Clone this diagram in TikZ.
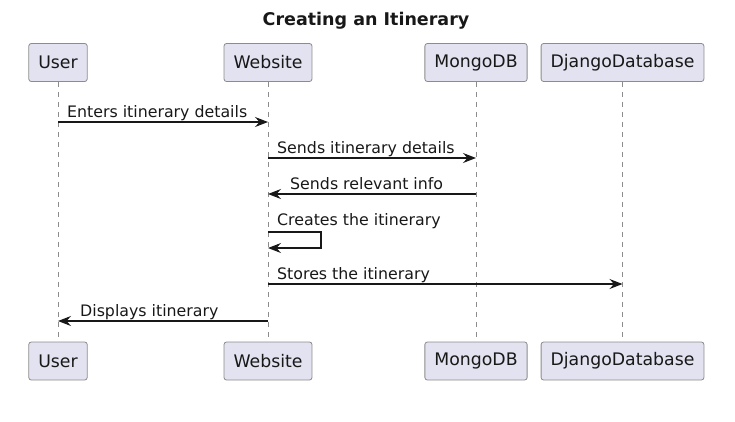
\documentclass[tikz,border=0pt]{standalone}
\usepackage{fontspec}
\setmainfont{DejaVu Sans}
\usetikzlibrary{arrows.meta}
\definecolor{partfill}{HTML}{E2E2F0}
\definecolor{partline}{HTML}{8C8C8C}
\definecolor{ink}{HTML}{181818}

\begin{document}
\begin{tikzpicture}[x=1pt,y=-1pt,
  part/.style={draw=partline,fill=partfill,rounded corners=2.5pt,line width=.8pt,
    minimum height=38pt,inner xsep=9.5pt,text=ink,font=\fontsize{17.3}{20}\selectfont},
  msg/.style={anchor=base west,inner sep=0pt,text=ink,font=\fontsize{15.8}{19}\selectfont},
  life/.style={draw=partline,dash pattern=on 5pt off 5pt,line width=.8pt},
  call/.style={draw=ink,line width=1.1pt,-{Stealth[length=13pt,width=10pt,inset=4.5pt]}}]
\useasboundingbox (0,0) rectangle (735,421);
\path (366,21) node[text=ink,font=\bfseries\fontsize{17.5}{20}\selectfont] (title) {Creating an Itinerary};

\path (58,62.5) node[part] (user) {User};
\path (268,62.5) node[part] (web) {Website};
\path (476,62.5) node[part] (mongo) {MongoDB};
\path (622.5,62.5) node[part] (django) {DjangoDatabase};
\path (58,361) node[part] (userB) {User};
\path (268,361) node[part] (webB) {Website};
\path (476,361) node[part] (mongoB) {MongoDB};
\path (622.5,361) node[part] (djangoB) {DjangoDatabase};

\draw[life] (user) -- (userB);
\draw[life] (web) -- (webB);
\draw[life] (mongo) -- (mongoB);
\draw[life] (django) -- (djangoB);

\path (67,117) node[msg] (enters) {Enters itinerary details};
\path (277,153) node[msg] (sends) {Sends itinerary details};
\path (290,189) node[msg] (relevant) {Sends relevant info};
\path (277,225) node[msg] (creates) {Creates the itinerary};
\path (277,279) node[msg] (stores) {Stores the itinerary};
\path (80,316) node[msg] (shows) {Displays itinerary};

\draw[call] (user |- 0,122) -- (web |- 0,122);
\draw[call] (web |- 0,158) -- (mongo |- 0,158);
\draw[call] (mongo |- 0,194) -- (web |- 0,194);
\draw[call] (web |- 0,232) -| (321,248) -- (web |- 0,248);
\draw[call] (web |- 0,284) -- (django |- 0,284);
\draw[call] (web |- 0,321) -- (user |- 0,321);
\end{tikzpicture}
\end{document}
